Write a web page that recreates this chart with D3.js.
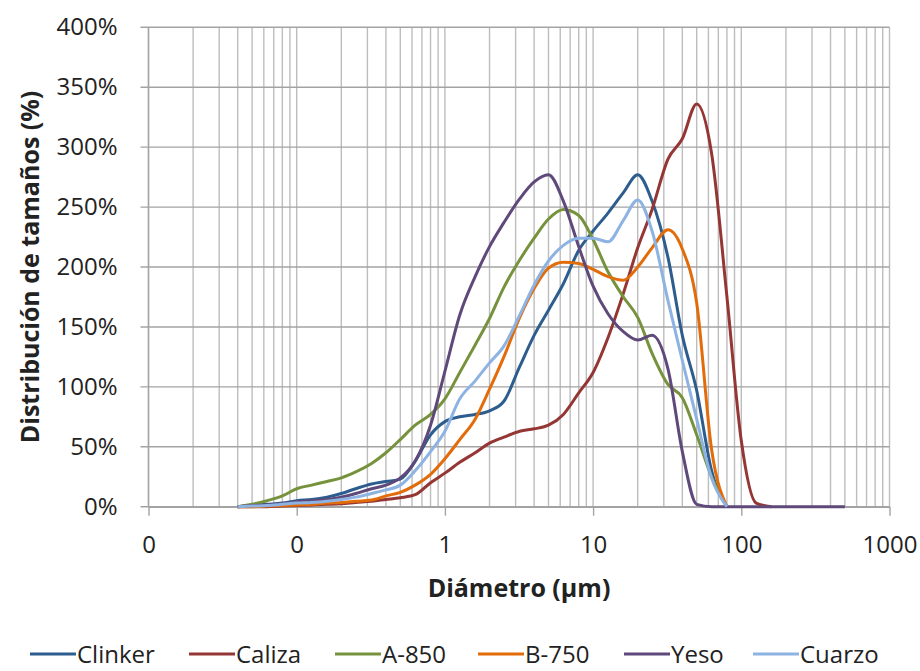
<!DOCTYPE html>
<html>
<head>
<meta charset="utf-8">
<script src="https://cdn.jsdelivr.net/npm/d3@7"></script>
<style>
  body { margin: 0; background: #fff; }
  svg text { font-family: "Open Sans", "DejaVu Sans", sans-serif; fill: #222; }
</style>
</head>
<body>
<div class="psd_chart"></div>
<script>
// diameters in µm (shared by all series)
const diameters = [0.04, 0.05, 0.063, 0.08, 0.1, 0.126, 0.16, 0.2, 0.25, 0.32, 0.4, 0.5, 0.63, 0.8,
  1, 1.26, 1.6, 2, 2.5, 3.2, 4, 5, 6.3, 8, 10, 12.6, 16, 20, 25, 32, 40, 50, 63, 80,
  100, 126, 160, 200, 250, 320, 400, 500];

// size distribution (%) per material, null = no data
const clinker = [0, 1, 2, 3, 5, 6, 8, 11, 15, 19, 21, 23, 38, 60,
  71, 75, 77, 80, 88, 117, 143, 164, 186, 214, 230, 245, 262, 277, 255, 208, 143, 97, 30, 0,
  null, null, null, null, null, null, null, null];
const caliza = [0, 0, 0, 0.5, 1, 1.5, 2, 2.5, 3.5, 4.5, 6, 7.5, 10, 20,
  28, 37, 45, 53, 58, 63, 65, 68, 77, 95, 112, 141, 178, 216, 248, 290, 307, 336, 295, 175,
  55, 3, 0, null, null, null, null, null];
const a850 = [0, 2, 5, 9, 15, 18, 21, 24, 29, 36, 45, 56, 68, 77,
  90, 112, 135, 157, 183, 206, 224, 240, 248, 243, 223, 196, 175, 158, 128, 102, 91, 60, 25, 0,
  null, null, null, null, null, null, null, null];
const b750 = [0, 0, 0.5, 1, 1.5, 2, 3, 3.5, 4.5, 5.5, 9, 12, 18, 27,
  40, 56, 73, 98, 125, 158, 182, 199, 204, 203, 198, 192, 189, 200, 216, 231, 215, 170, 48, 0,
  null, null, null, null, null, null, null, null];
const yeso = [0, 1, 1.5, 2.5, 4, 5, 6, 8, 11, 15, 18, 24, 38, 68,
  113, 160, 192, 217, 237, 257, 271, 277, 255, 217, 184, 161, 146, 139, 143, 115, 46, 2, 0, 0,
  0, 0, 0, 0, 0, 0, 0, 0];
const cuarzo = [0, 0.5, 1, 2, 3, 3.5, 4.5, 6, 8, 11, 14, 18, 30, 46,
  63, 90, 105, 120, 134, 160, 185, 205, 218, 224, 224, 221, 239, 256, 230, 172, 122, 73, 24, 0,
  null, null, null, null, null, null, null, null];

const seriesNames = ["Clinker", "Caliza", "A-850", "B-750", "Yeso", "Cuarzo"];
const seriesValues = [clinker, caliza, a850, b750, yeso, cuarzo];
const seriesColors = ["#2d5d8e", "#943634", "#76923c", "#e36c0a", "#5f497a", "#8db3e2"];

const xDomain = [0.01, 1000];
const yTicks = [0, 50, 100, 150, 200, 250, 300, 350, 400];

const width = 920, height = 671;
const plotLeft = 148.5, plotRight = 889.5, plotTop = 27.3, plotBottom = 506.7;

const svg = d3.select(".psd_chart")
  .append("svg")
  .attr("width", width)
  .attr("height", height);

const x = d3.scaleLog().domain(xDomain).range([plotLeft, plotRight]);
const y = d3.scaleLinear().domain([0, 400]).range([plotBottom, plotTop]);

// vertical grid (log minor + major)
svg.append("g")
  .selectAll("line")
  .data(x.ticks())
  .join("line")
  .attr("x1", d => x(d)).attr("x2", d => x(d))
  .attr("y1", plotTop).attr("y2", plotBottom)
  .attr("stroke", "#bdbdbd")
  .attr("stroke-width", 1.4);

// horizontal grid
svg.append("g")
  .selectAll("line")
  .data(yTicks)
  .join("line")
  .attr("x1", plotLeft - 8).attr("x2", plotRight)
  .attr("y1", d => y(d)).attr("y2", d => y(d))
  .attr("stroke", "#a3a3a3")
  .attr("stroke-width", 1.4);

// y axis line
svg.append("line")
  .attr("x1", plotLeft).attr("x2", plotLeft).attr("y1", plotTop).attr("y2", plotBottom)
  .attr("stroke", "#a3a3a3").attr("stroke-width", 1.4);

// x axis (decade ticks only)
const xAxis = d3.axisBottom(x)
  .tickValues([0.01, 0.1, 1, 10, 100, 1000])
  .tickFormat(d3.format(".0f"))
  .tickSize(9)
  .tickSizeOuter(0)
  .tickPadding(20);
const gx = svg.append("g")
  .attr("transform", `translate(0,${plotBottom})`)
  .call(xAxis);
gx.select(".domain").attr("stroke", "#a3a3a3").attr("stroke-width", 1.4);
gx.selectAll(".tick line").attr("stroke", "#a3a3a3").attr("stroke-width", 1.4);
gx.selectAll(".tick text").attr("font-size", 24).attr("fill", "#222");

// y axis labels
const yAxis = d3.axisLeft(y)
  .tickValues(yTicks)
  .tickFormat(d => d + "%")
  .tickSize(0)
  .tickPadding(31);
const gy = svg.append("g")
  .attr("transform", `translate(${plotLeft},0)`)
  .call(yAxis);
gy.select(".domain").remove();
gy.selectAll(".tick text").attr("font-size", 24).attr("fill", "#222");

// series lines
const line = d3.line()
  .defined(d => d[1] !== null)
  .x(d => x(d[0]))
  .y(d => y(d[1]))
  .curve(d3.curveMonotoneX);

seriesValues.forEach((vals, i) => {
  svg.append("path")
    .datum(diameters.map((d, j) => [d, vals[j]]))
    .attr("d", line)
    .attr("fill", "none")
    .attr("stroke", seriesColors[i])
    .attr("stroke-width", 3)
    .attr("stroke-linejoin", "round");
});

// axis titles
svg.append("text")
  .attr("x", (plotLeft + plotRight) / 2)
  .attr("y", 597)
  .attr("text-anchor", "middle")
  .attr("font-size", 25)
  .attr("font-weight", "bold")
  .text("Diámetro (µm)");

svg.append("text")
  .attr("transform", `translate(39,${(plotTop + plotBottom) / 2}) rotate(-90)`)
  .attr("text-anchor", "middle")
  .attr("font-size", 25)
  .attr("font-weight", "bold")
  .text("Distribución de tamaños (%)");

// legend
const legendY = 654;
const legendX = [30, 189, 335, 478, 624, 753];
const legend = svg.append("g");
seriesNames.forEach((name, i) => {
  const g = legend.append("g").attr("transform", `translate(${legendX[i]},${legendY})`);
  g.append("line")
    .attr("x1", 0).attr("x2", 46)
    .attr("y1", 0).attr("y2", 0)
    .attr("stroke", seriesColors[i])
    .attr("stroke-width", 3);
  g.append("text")
    .attr("x", 47)
    .attr("y", 8.5)
    .attr("font-size", 24)
    .text(name);
});
</script>
</body>
</html>
